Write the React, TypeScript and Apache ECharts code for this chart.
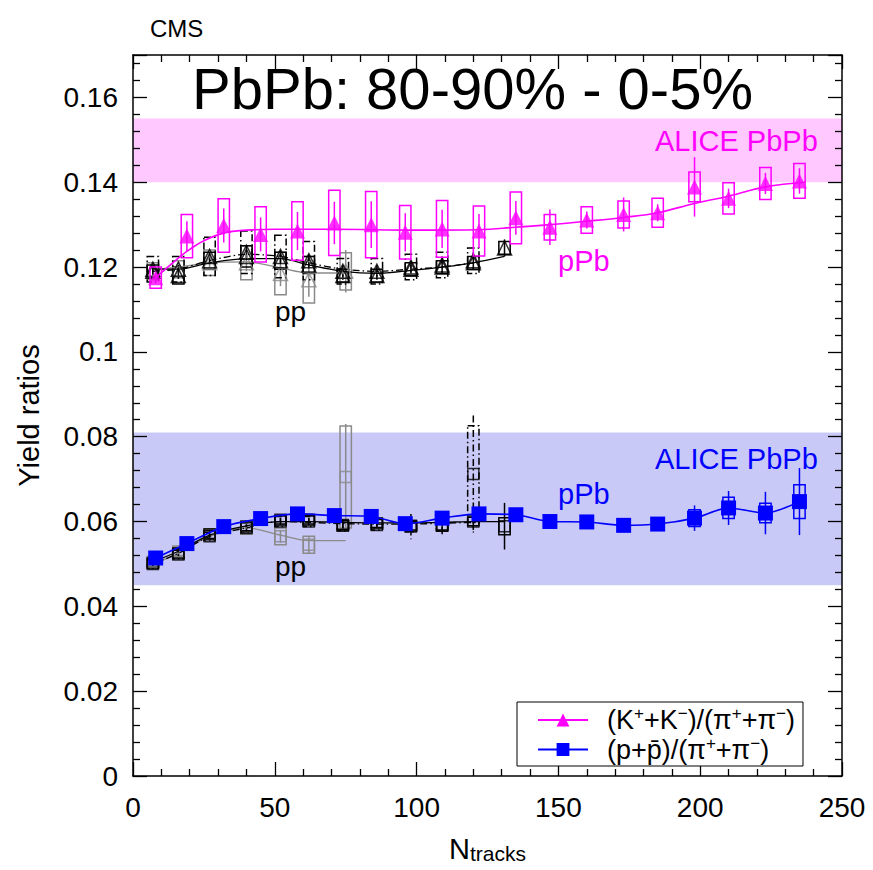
import React, { useEffect, useRef } from 'react';
import * as echarts from 'echarts';

const FONT = '"Liberation Sans", Arial, Helvetica, sans-serif';

// ---- pPb (CMS) ----
const nTracks = [8, 19, 32, 45, 58, 71, 84, 96, 109, 122, 135, 147, 160, 173, 185, 198, 210, 223, 235];
const kpiPPb = [0.1175, 0.1273, 0.1298, 0.1277, 0.1285, 0.1304, 0.1300, 0.1282, 0.1290, 0.1285, 0.1316, 0.1294, 0.1311, 0.1324, 0.1328, 0.1389, 0.1362, 0.1397, 0.1403];
const kpiPPbStat = [0.0010, 0.0035, 0.0040, 0.0040, 0.0045, 0.0050, 0.0055, 0.0045, 0.0045, 0.0040, 0.0040, 0.0042, 0.0020, 0.0040, 0.0020, 0.0070, 0.0023, 0.0025, 0.0030];
const kpiPPbSys = [0.0025, 0.0051, 0.0063, 0.0065, 0.0069, 0.0077, 0.0078, 0.0063, 0.0067, 0.0059, 0.0061, 0.0030, 0.0031, 0.0032, 0.0034, 0.0035, 0.0037, 0.0038, 0.0041];
const kpiFitN = [8, 14, 19, 25, 32, 40, 50, 70, 100, 122, 135, 147, 160, 173, 185, 198, 210, 223, 237];
const kpiFit = [0.1175, 0.1210, 0.1237, 0.1262, 0.1280, 0.1287, 0.1289, 0.1289, 0.1287, 0.1288, 0.1294, 0.1300, 0.1308, 0.1317, 0.1328, 0.1350, 0.1367, 0.1389, 0.1400];

const ppiPPb = [0.0514, 0.0548, 0.0588, 0.0607, 0.0618, 0.0614, 0.0612, 0.0595, 0.0608, 0.0618, 0.0616, 0.0600, 0.0599, 0.0591, 0.0594, 0.0608, 0.0632, 0.0620, 0.0647];
const ppiPPbStat = [0.0015, 0.0008, 0.0008, 0.0008, 0.0008, 0.0008, 0.0008, 0.0008, 0.0008, 0.0010, 0.0010, 0.0010, 0.0010, 0.0010, 0.0012, 0.0030, 0.0040, 0.0050, 0.0079];
const ppiPPbSys = [0.0008, 0.0008, 0.0008, 0.0008, 0.0008, 0.0008, 0.0008, 0.0008, 0.0008, 0.0008, 0.0008, 0.0008, 0.0008, 0.0008, 0.0010, 0.0020, 0.0025, 0.0023, 0.0040];

// ---- ALICE PbPb bands ----
const aliceKpiBand = [0.140, 0.155];
const alicePpiBand = [0.045, 0.081];

// ---- pp (gray, 0.9 TeV-like) ----
const ppGrayN = [7, 16, 27, 40, 52, 62, 75];
const ppGrayKpi = [0.1190, 0.1195, 0.1210, 0.1210, 0.1185, 0.1170, 0.1190];
const ppGrayKpiStat = [0.0010, 0.0010, 0.0010, 0.0020, 0.0030, 0.0040, 0.0050];
const ppGrayKpiSys = [0.0020, 0.0020, 0.0030, 0.0040, 0.0050, 0.0055, 0.0044];
const ppGrayKpiFit = [0.1194, 0.1200, 0.1210, 0.1212, 0.1198, 0.1186, 0.1186];
const ppGrayPpi = [0.0505, 0.0530, 0.0570, 0.0585, 0.0565, 0.0545, 0.0705];
const ppGrayPpiStat = [0.0005, 0.0005, 0.0008, 0.0010, 0.0015, 0.0020, 0.0125];
const ppGrayPpiSys = [0.0010, 0.0010, 0.0012, 0.0015, 0.0020, 0.0020, 0.0120];
const ppGrayPpiFit = [0.0500, 0.0525, 0.0565, 0.0585, 0.0568, 0.0555, 0.0555];

// ---- pp (black solid, 7 TeV-like) ----
const ppBlackN = [7, 16, 27, 40, 52, 62, 74, 86, 98, 109, 120, 131];
const ppBlackKpi = [0.1190, 0.1180, 0.1215, 0.1225, 0.1215, 0.1205, 0.1180, 0.1180, 0.1195, 0.1200, 0.1210, 0.1245];
const ppBlackKpiStat = [0.0008, 0.0008, 0.0008, 0.0008, 0.0008, 0.0008, 0.0010, 0.0010, 0.0010, 0.0012, 0.0015, 0.0020];
const ppBlackKpiSys = [0.0015, 0.0020, 0.0020, 0.0025, 0.0020, 0.0020, 0.0015, 0.0015, 0.0015, 0.0015, 0.0015, 0.0015];
const ppBlackKpiFit = [0.1195, 0.1195, 0.1210, 0.1220, 0.1220, 0.1205, 0.1190, 0.1185, 0.1192, 0.1200, 0.1210, 0.1225];
const ppBlackPpi = [0.0502, 0.0525, 0.0570, 0.0588, 0.0604, 0.0604, 0.0592, 0.0596, 0.0590, 0.0590, 0.0600, 0.0589];
const ppBlackPpiStat = [0.0005, 0.0005, 0.0005, 0.0005, 0.0005, 0.0005, 0.0008, 0.0008, 0.0010, 0.0015, 0.0020, 0.0055];
const ppBlackPpiSys = [0.0010, 0.0010, 0.0010, 0.0010, 0.0010, 0.0010, 0.0010, 0.0010, 0.0010, 0.0010, 0.0010, 0.0020];
const ppBlackPpiFit = [0.0505, 0.0530, 0.0568, 0.0590, 0.0600, 0.0600, 0.0598, 0.0597, 0.0597, 0.0598, 0.0600, 0.0600];

// ---- pp (black dash-dot, 2.76 TeV-like) ----
const ppDashN = [7, 16, 27, 40, 52, 62, 74, 86, 98, 109, 120];
const ppDashKpi = [0.1195, 0.1195, 0.1225, 0.1235, 0.1225, 0.1215, 0.1190, 0.1190, 0.1200, 0.1205, 0.1215];
const ppDashKpiStat = [0.0010, 0.0010, 0.0010, 0.0015, 0.0015, 0.0015, 0.0015, 0.0015, 0.0015, 0.0020, 0.0020];
const ppDashKpiSys = [0.0030, 0.0030, 0.0045, 0.0050, 0.0050, 0.0045, 0.0030, 0.0030, 0.0030, 0.0030, 0.0030];
const ppDashKpiFit = [0.1190, 0.1195, 0.1215, 0.1230, 0.1225, 0.1210, 0.1195, 0.1190, 0.1195, 0.1200, 0.1210];
const ppDashPpi = [0.0500, 0.0522, 0.0565, 0.0585, 0.0600, 0.0600, 0.0590, 0.0592, 0.0588, 0.0590, 0.0712];
const ppDashPpiStat = [0.0005, 0.0005, 0.0005, 0.0008, 0.0008, 0.0008, 0.0010, 0.0010, 0.0030, 0.0020, 0.0138];
const ppDashPpiSys = [0.0010, 0.0010, 0.0010, 0.0012, 0.0012, 0.0012, 0.0012, 0.0012, 0.0012, 0.0012, 0.0114];
const ppDashPpiFit = [0.0500, 0.0525, 0.0565, 0.0585, 0.0600, 0.0598, 0.0595, 0.0594, 0.0594, 0.0596, 0.0598];

// ---- axis ticks ----
const xMin = 0, xMax = 250, xStep = 50;
const yMin = 0, yMax = 0.17, yStep = 0.02;

const MAGENTA = '#ff00ff';
const BLUE = '#0000ff';
const GRAY = '#8a8a8a';
const BLACK = '#000000';
const DASHDOT = [7, 3, 1.5, 3];

function rows(n: number[], v: number[], st: number[], sy: number[]) {
  return n.map((x, i) => [x, v[i], st[i], sy[i]]);
}
function pts(n: number[], v: number[]) {
  return n.map((x, i) => [x, v[i]]);
}

function errSeries(data: number[][], color: string, dash: any, halfW: number, z = 2) {
  return {
    type: 'custom',
    z,
    silent: true,
    data,
    encode: { x: 0, y: 1 },
    renderItem: (params: any, api: any) => {
      const x = api.value(0), y = api.value(1), st = api.value(2), sy = api.value(3);
      const tl = api.coord([x - halfW, y + sy]);
      const br = api.coord([x + halfW, y - sy]);
      const a = api.coord([x, y + st]);
      const b = api.coord([x, y - st]);
      const style: any = { fill: 'none', stroke: color, lineWidth: 1.5 };
      if (dash) style.lineDash = dash;
      return {
        type: 'group',
        children: [
          { type: 'rect', shape: { x: tl[0], y: tl[1], width: br[0] - tl[0], height: br[1] - tl[1] }, style },
          { type: 'line', shape: { x1: a[0], y1: a[1], x2: b[0], y2: b[1] }, style: { ...style, fill: undefined } },
        ],
      };
    },
  };
}

function ppSeries(n: number[], kv: number[], kst: number[], ksy: number[], kfit: number[],
  pv: number[], pst: number[], psy: number[], pfit: number[], color: string, dash: any) {
  const line = (fit: number[]) => ({
    type: 'line', z: 2, silent: true, smooth: 0.3, symbol: 'none',
    data: pts(n, fit),
    lineStyle: { color, width: 1.3, type: dash ? dash : 'solid' },
  });
  const marks = (v: number[], symbol: string, size: number) => ({
    type: 'scatter', z: 2, silent: true, symbol, symbolSize: size,
    data: pts(n, v),
    itemStyle: { color: 'rgba(255,255,255,0)', borderColor: color, borderWidth: 1.5 },
  });
  return [
    line(kfit),
    errSeries(rows(n, kv, kst, ksy), color, dash, 2),
    marks(kv, 'triangle', 14),
    line(pfit),
    errSeries(rows(n, pv, pst, psy), color, dash, 2),
    marks(pv, 'rect', 11),
  ];
}

const legendLabels: Record<string, string> = {
  kpi: '{t|(K}{s|+}{t|+K}{s|−}{t|)/(π}{s|+}{t|+π}{s|−}{t|)}',
  ppi: '{t|(p+p\u0304)/(π}{s|+}{t|+π}{s|−}{t|)}',
};

export default function App() {
  const ref = useRef<HTMLDivElement>(null);
  useEffect(() => {
    const chart = echarts.init(ref.current!, null, { renderer: 'svg' });
    const axisCommon = {
      axisLine: { show: true, onZero: false, lineStyle: { color: '#000', width: 1.5 } },
      axisTick: { show: true, inside: true, length: 14, lineStyle: { color: '#000', width: 1.3 } },
      minorTick: { show: true, splitNumber: 5, length: 7, lineStyle: { color: '#000', width: 1.3 } },
      splitLine: { show: false },
      minorSplitLine: { show: false },
    };
    const txt = (text: string, x: number, y: number, size: number, fill: string) => ({
      type: 'text', x, y, z: 100, silent: true,
      style: { text, fontSize: size, fontFamily: FONT, fill, verticalAlign: 'middle' },
    });
    const option: any = {
      animation: false,
      backgroundColor: '#fff',
      textStyle: { fontFamily: FONT },
      grid: { left: 133, right: 31, top: 55, bottom: 94, containLabel: false },
      xAxis: [
        {
          type: 'value', min: xMin, max: xMax, interval: xStep, position: 'bottom',
          ...axisCommon,
          axisLabel: { show: true, fontSize: 28, color: '#000', fontFamily: FONT, margin: 17 },
          name: '{n|N}{sub|tracks}',
          nameLocation: 'middle', nameGap: 58,
          nameTextStyle: {
            rich: {
              n: { fontSize: 29, fontFamily: FONT, color: '#000', lineHeight: 30 },
              sub: { fontSize: 21, fontFamily: FONT, color: '#000', lineHeight: 16, verticalAlign: 'bottom' },
            },
          },
        },
        {
          type: 'value', min: xMin, max: xMax, interval: xStep, position: 'top',
          ...axisCommon, axisLabel: { show: false },
        },
      ],
      yAxis: [
        {
          type: 'value', min: yMin, max: yMax, interval: yStep, position: 'left',
          ...axisCommon,
          axisLabel: {
            show: true, fontSize: 28, color: '#000', fontFamily: FONT, margin: 15,
            formatter: (v: number) => String(Math.round(v * 1000) / 1000),
            showMaxLabel: false,
          },
          name: 'Yield ratios', nameLocation: 'middle', nameRotate: 90, nameGap: 90,
          nameTextStyle: { fontSize: 29, fontFamily: FONT, color: '#000' },
        },
        {
          type: 'value', min: yMin, max: yMax, interval: yStep, position: 'right',
          ...axisCommon, axisLabel: { show: false },
        },
      ],
      legend: {
        show: true,
        z: 50,
        data: ['kpi', 'ppi'],
        orient: 'vertical',
        left: 517, top: 702,
        padding: [3, 8, 3, 20],
        itemGap: 1,
        itemWidth: 50,
        itemHeight: 16,
        borderColor: '#000', borderWidth: 1, borderRadius: 0,
        backgroundColor: '#fff',
        selectedMode: false,
        formatter: (name: string) => legendLabels[name] || name,
        textStyle: {
          padding: [0, 0, 0, 14],
          rich: {
            t: { fontSize: 27, lineHeight: 30, fontFamily: FONT, color: '#000' },
            s: { fontSize: 17, lineHeight: 16, fontFamily: FONT, color: '#000', verticalAlign: 'top' },
          },
        },
      },
      graphic: [
        { type: 'text', left: 150, top: 16, z: 100, style: { text: 'CMS', fontSize: 24, fontFamily: FONT, fill: '#000' } },
        txt('PbPb: 80-90% - 0-5%', 192, 88, 58, '#000'),
        txt('ALICE PbPb', 655, 141, 29, MAGENTA),
        txt('pPb', 558, 261, 29, MAGENTA),
        txt('pp', 275, 311, 28, '#000'),
        txt('ALICE PbPb', 655, 459, 29, BLUE),
        txt('pPb', 558, 494, 29, BLUE),
        txt('pp', 275, 566, 28, '#000'),
      ],
      series: [
        ...ppSeries(ppGrayN, ppGrayKpi, ppGrayKpiStat, ppGrayKpiSys, ppGrayKpiFit,
          ppGrayPpi, ppGrayPpiStat, ppGrayPpiSys, ppGrayPpiFit, GRAY, null),
        ...ppSeries(ppDashN, ppDashKpi, ppDashKpiStat, ppDashKpiSys, ppDashKpiFit,
          ppDashPpi, ppDashPpiStat, ppDashPpiSys, ppDashPpiFit, BLACK, DASHDOT),
        ...ppSeries(ppBlackN, ppBlackKpi, ppBlackKpiStat, ppBlackKpiSys, ppBlackKpiFit,
          ppBlackPpi, ppBlackPpiStat, ppBlackPpiSys, ppBlackPpiFit, BLACK, null),
        {
          name: 'kpi', type: 'line', z: 3, silent: true, smooth: 0.4,
          symbol: 'triangle', symbolSize: 15, showSymbol: false,
          data: pts(kpiFitN, kpiFit),
          lineStyle: { color: MAGENTA, width: 1.6 },
          itemStyle: { color: MAGENTA },
          markArea: {
            silent: true,
            z: 0,
            itemStyle: { color: '#ffc8ff' },
            data: [[{ yAxis: aliceKpiBand[0] }, { yAxis: aliceKpiBand[1] }]],
          },
        },
        errSeries(rows(nTracks, kpiPPb, kpiPPbStat, kpiPPbSys), MAGENTA, null, 2, 3),
        {
          name: 'kpi', type: 'scatter', z: 4, silent: true, symbol: 'triangle', symbolSize: 15,
          data: pts(nTracks, kpiPPb),
          itemStyle: { color: MAGENTA },
        },
        errSeries(rows(nTracks, ppiPPb, ppiPPbStat, ppiPPbSys), BLUE, null, 2, 3),
        {
          name: 'ppi', type: 'line', z: 4, silent: true, smooth: 0.3,
          symbol: 'rect', symbolSize: 15, showSymbol: true,
          data: pts(nTracks, ppiPPb),
          lineStyle: { color: BLUE, width: 1.6 },
          itemStyle: { color: BLUE },
          markArea: {
            silent: true,
            z: 0,
            itemStyle: { color: '#c9c9f7' },
            data: [[{ yAxis: alicePpiBand[0] }, { yAxis: alicePpiBand[1] }]],
          },
        },
      ],
    };
    chart.setOption(option);
    return () => chart.dispose();
  }, []);
  return <div ref={ref} style={{ position: 'fixed', left: 0, top: 0, width: 873, height: 870, background: '#fff' }} />;
}
